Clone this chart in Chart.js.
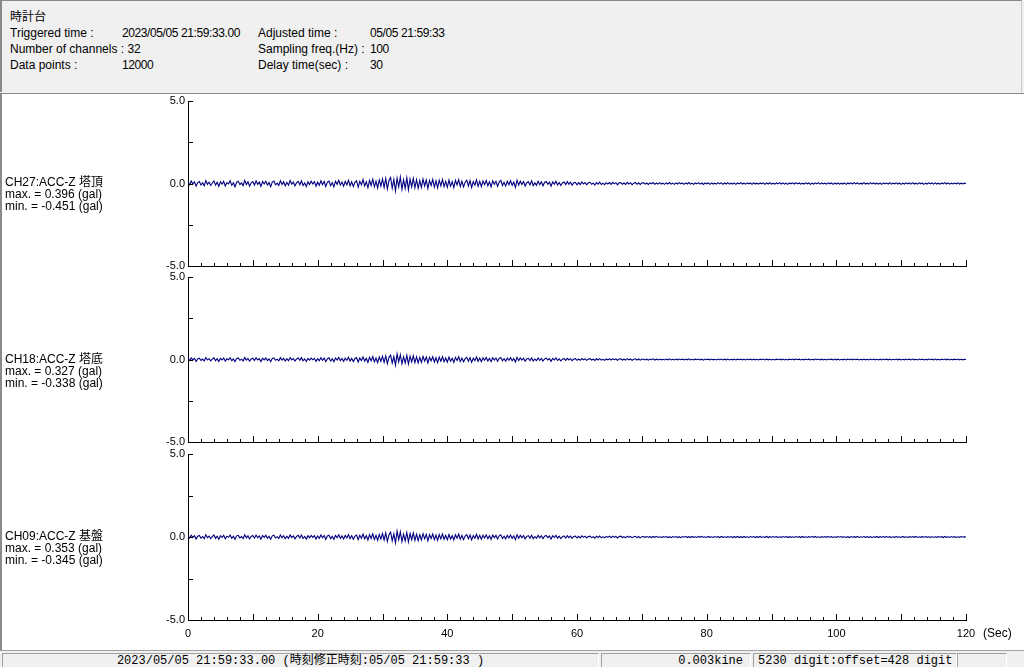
<!DOCTYPE html>
<html>
<head>
<meta charset="utf-8">
<script src="https://cdn.jsdelivr.net/npm/chart.js@4.4.0/dist/chart.umd.min.js"></script>
<style>
  body { margin: 0; width: 1024px; height: 667px; overflow: hidden; position: relative; background: #f0f0f0;
         font-family: "Liberation Sans", Arial, "Noto Sans CJK JP", sans-serif; font-size: 12px; color: #000; }
  #head { position: absolute; left: 0; top: 0; width: 1019px; height: 91px; background: #f0f0f0;
          border-top: 1px solid #8a8a8a; border-left: 2px solid #8a8a8a; border-right: 1px solid #c8c8c8; }
  #head div { position: absolute; white-space: nowrap; line-height: 14px; }
  #head .num { letter-spacing: -0.4px; }
  #plot { position: absolute; left: 0; top: 93px; width: 1022px; height: 556px; background: #fff;
          border-top: 1px solid #8a8a8a; border-left: 2px solid #8a8a8a; }
  canvas { position: absolute; left: 0; }
  .chlabel { position: absolute; left: 5px; line-height: 12px; white-space: nowrap; font-size: 12px; }
  #status { position: absolute; left: 0; top: 650px; width: 1024px; height: 17px; background: #f0f0f0;
            border-top: 1px solid #a0a0a0; font-family: "Liberation Mono", "DejaVu Sans Mono", "Noto Sans CJK JP", monospace; font-size: 12px; }
  #status div { position: absolute; top: 2px; height: 14px; line-height: 14px; white-space: nowrap;
                border-top: 1px solid #a0a0a0; border-left: 1px solid #a0a0a0; border-right: 1px solid #fff; }
</style>
</head>
<body>
<div id="head">
  <div style="left:8px;top:9px">時計台</div>
  <div style="left:8px;top:25px">Triggered time :</div>
  <div class="num" style="left:120px;top:25px">2023/05/05 21:59:33.00</div>
  <div style="left:256px;top:25px">Adjusted time :</div>
  <div class="num" style="left:368px;top:25px">05/05 21:59:33</div>
  <div style="left:8px;top:41px">Number of channels : 32</div>
  <div style="left:256px;top:41px">Sampling freq.(Hz) :</div>
  <div class="num" style="left:368px;top:41px">100</div>
  <div style="left:8px;top:57px">Data points :</div>
  <div class="num" style="left:120px;top:57px">12000</div>
  <div style="left:256px;top:57px">Delay time(sec) :</div>
  <div class="num" style="left:368px;top:57px">30</div>
</div>
<div id="plot"></div>
<canvas id="c0" width="1024" height="178" style="top:94px"></canvas>
<canvas id="c1" width="1024" height="178" style="top:270px"></canvas>
<canvas id="c2" width="1024" height="202" style="top:447px"></canvas>
<div class="chlabel" style="top:176px">CH27:ACC-Z 塔頂<br>max. = 0.396 (gal)<br>min. = -0.451 (gal)</div>
<div class="chlabel" style="top:353px">CH18:ACC-Z 塔底<br>max. = 0.327 (gal)<br>min. = -0.338 (gal)</div>
<div class="chlabel" style="top:530px">CH09:ACC-Z 基盤<br>max. = 0.353 (gal)<br>min. = -0.345 (gal)</div>
<div style="position:absolute;left:983px;top:626px;font-size:12px;line-height:14px">(Sec)</div>
<div id="status">
  <div style="left:2px;width:595px;text-align:center">2023/05/05 21:59:33.00  (時刻修正時刻:05/05 21:59:33  )</div>
  <div style="left:601px;width:141px;padding-right:7px;text-align:right">0.003kine</div>
  <div style="left:753px;width:198px;padding-left:4px">5230 digit:offset=428 digit</div>
  <div style="left:957px;width:48px"></div>
</div>
<script>
// waveforms, one value every 0.25 s (gal), 0..120 s
const sampleStep = 0.25;

const ch27 = [0.05,
  -0.08,0.15,-0.03,0.10,-0.16,0.06,0.12,-0.09,0.04,-0.14,0.18,-0.05,0.08,-0.12,0.03,0.16,-0.10,0.07,-0.18,0.11,
  -0.04,0.13,-0.15,0.06,-0.02,0.17,-0.11,0.05,-0.20,0.09,0.14,-0.07,0.03,-0.13,0.19,-0.06,0.10,-0.16,0.04,0.12,
  -0.09,0.16,-0.05,0.08,-0.17,0.12,-0.03,0.14,-0.10,0.06,-0.19,0.09,0.15,-0.08,0.02,-0.12,0.17,-0.06,0.11,-0.14,
  0.07,-0.10,0.18,-0.04,0.09,-0.15,0.05,0.13,-0.08,0.16,-0.12,0.04,-0.18,0.10,-0.06,0.14,-0.03,0.11,-0.16,0.08,
  -0.11,0.17,-0.07,0.12,-0.19,0.08,0.15,-0.13,0.06,-0.21,0.14,-0.05,0.19,-0.10,0.09,-0.16,0.12,-0.08,0.20,-0.14,
  0.10,-0.18,0.07,0.16,-0.22,0.13,-0.09,0.24,-0.15,0.11,-0.25,0.19,-0.12,0.26,-0.20,0.14,-0.27,0.22,-0.16,0.28,
  -0.24,0.30,-0.33,0.18,0.36,-0.28,0.25,-0.45,0.32,-0.20,0.40,-0.35,0.22,-0.30,0.34,-0.38,0.27,-0.21,0.31,-0.26,
  0.23,-0.29,0.18,-0.24,0.27,-0.15,0.21,-0.30,0.19,-0.12,0.25,-0.22,0.16,-0.27,0.20,-0.14,0.24,-0.19,0.13,-0.23,
  0.21,-0.16,0.11,-0.25,0.19,-0.09,0.23,-0.18,0.14,-0.21,0.08,0.20,-0.15,0.17,-0.24,0.12,-0.10,0.22,-0.17,0.13,
  -0.19,0.15,-0.07,0.18,-0.14,0.10,-0.20,0.16,-0.05,0.13,-0.17,0.09,0.19,-0.12,0.07,-0.15,0.14,-0.08,0.17,-0.11,
  0.09,-0.23,0.20,-0.10,0.14,-0.06,0.12,-0.15,0.05,0.11,-0.09,0.16,-0.13,0.04,-0.11,0.13,-0.07,0.10,-0.14,0.06,
  0.12,-0.05,0.08,-0.16,0.10,-0.04,0.14,-0.09,0.06,-0.12,0.03,0.09,-0.07,0.11,-0.05,0.08,-0.10,0.04,0.07,-0.08,
  0.05,-0.07,0.09,-0.03,0.06,-0.08,0.04,0.07,-0.05,0.03,-0.09,0.06,-0.04,0.08,-0.06,0.02,-0.07,0.05,-0.03,0.06,
  -0.05,0.07,-0.02,0.05,-0.08,0.04,0.06,-0.04,0.03,-0.06,0.07,-0.03,0.05,-0.07,0.02,0.06,-0.05,0.04,-0.06,0.03,
  0.05,-0.04,0.03,-0.06,0.04,-0.02,0.06,-0.05,0.03,-0.04,0.05,-0.03,0.02,-0.05,0.04,-0.03,0.06,-0.04,0.02,-0.05,
  0.04,-0.03,0.05,-0.02,0.03,-0.05,0.04,-0.03,0.06,-0.04,0.02,-0.05,0.03,-0.02,0.05,-0.04,0.03,-0.06,0.04,-0.02,
  0.03,-0.05,0.04,-0.03,0.02,-0.04,0.05,-0.02,0.04,-0.05,0.03,-0.03,0.05,-0.04,0.02,-0.03,0.04,-0.05,0.03,-0.02,
  0.05,-0.03,0.02,-0.04,0.04,-0.02,0.03,-0.05,0.05,-0.03,0.02,-0.04,0.03,-0.02,0.04,-0.05,0.03,-0.03,0.05,-0.04,
  0.02,-0.04,0.03,-0.02,0.05,-0.03,0.04,-0.04,0.02,-0.05,0.03,-0.02,0.04,-0.03,0.05,-0.02,0.03,-0.04,0.02,-0.03,
  0.04,-0.02,0.03,-0.05,0.02,-0.03,0.04,-0.02,0.05,-0.04,0.03,-0.03,0.02,-0.04,0.04,-0.02,0.03,-0.05,0.04,-0.03,
  0.03,-0.04,0.02,-0.03,0.04,-0.05,0.03,-0.02,0.04,-0.03,0.05,-0.02,0.03,-0.04,0.02,-0.03,0.05,-0.03,0.02,-0.04,
  0.05,-0.02,0.04,-0.03,0.02,-0.04,0.03,-0.05,0.04,-0.02,0.03,-0.03,0.05,-0.04,0.02,-0.02,0.04,-0.03,0.03,-0.05,
  0.02,-0.03,0.04,-0.02,0.03,-0.04,0.05,-0.03,0.02,-0.04,0.04,-0.02,0.03,-0.05,0.02,-0.03,0.04,-0.02,0.03,-0.04,
  0.04,-0.03,0.02,-0.04,0.03,-0.02,0.05,-0.03,0.04,-0.04,0.02,-0.03,0.03,-0.02,0.04,-0.03,0.02,-0.03,0.02,-0.01];

const ch18 = [0.03,
  -0.05,0.10,-0.02,0.07,-0.11,0.04,0.08,-0.06,0.03,-0.09,0.12,-0.03,0.05,-0.08,0.02,0.11,-0.07,0.05,-0.12,0.07,
  -0.03,0.09,-0.10,0.04,-0.02,0.11,-0.07,0.03,-0.13,0.06,0.09,-0.05,0.02,-0.09,0.12,-0.04,0.07,-0.11,0.03,0.08,
  -0.06,0.11,-0.03,0.05,-0.12,0.08,-0.02,0.09,-0.07,0.04,-0.13,0.06,0.10,-0.05,0.02,-0.08,0.11,-0.04,0.07,-0.09,
  0.05,-0.07,0.12,-0.03,0.06,-0.10,0.03,0.09,-0.05,0.11,-0.08,0.03,-0.12,0.07,-0.04,0.09,-0.02,0.07,-0.11,0.05,
  -0.07,0.11,-0.05,0.08,-0.13,0.05,0.10,-0.09,0.04,-0.14,0.09,-0.03,0.13,-0.07,0.06,-0.11,0.08,-0.05,0.13,-0.09,
  0.07,-0.12,0.05,0.11,-0.15,0.09,-0.06,0.16,-0.10,0.07,-0.17,0.13,-0.08,0.18,-0.14,0.09,-0.19,0.15,-0.11,0.20,
  -0.17,0.22,-0.25,0.13,0.27,-0.21,0.18,-0.34,0.33,-0.15,0.29,-0.26,0.16,-0.22,0.25,-0.28,0.19,-0.15,0.22,-0.19,
  0.16,-0.21,0.13,-0.17,0.19,-0.10,0.15,-0.21,0.13,-0.08,0.17,-0.15,0.11,-0.19,0.14,-0.10,0.17,-0.13,0.09,-0.16,
  0.14,-0.11,0.07,-0.17,0.13,-0.06,0.16,-0.12,0.09,-0.14,0.05,0.13,-0.10,0.11,-0.16,0.08,-0.07,0.15,-0.11,0.09,
  -0.13,0.10,-0.05,0.12,-0.09,0.07,-0.13,0.11,-0.03,0.09,-0.11,0.06,0.12,-0.08,0.05,-0.10,0.09,-0.05,0.11,-0.07,
  0.06,-0.15,0.13,-0.07,0.09,-0.04,0.08,-0.10,0.03,0.07,-0.06,0.10,-0.09,0.03,-0.07,0.09,-0.05,0.07,-0.09,0.04,
  0.08,-0.03,0.05,-0.11,0.07,-0.03,0.09,-0.06,0.04,-0.08,0.02,0.06,-0.05,0.07,-0.03,0.05,-0.07,0.03,0.05,-0.05,
  0.03,-0.05,0.06,-0.02,0.04,-0.05,0.03,0.05,-0.03,0.02,-0.06,0.04,-0.03,0.05,-0.04,0.01,-0.05,0.03,-0.02,0.04,
  -0.03,0.05,-0.01,0.03,-0.05,0.03,0.04,-0.03,0.02,-0.04,0.05,-0.02,0.03,-0.05,0.01,0.04,-0.03,0.03,-0.04,0.02,
  0.03,-0.03,0.02,-0.04,0.03,-0.01,0.04,-0.03,0.02,-0.03,0.03,-0.02,0.01,-0.03,0.03,-0.02,0.04,-0.03,0.01,-0.03,
  0.03,-0.02,0.03,-0.01,0.02,-0.03,0.03,-0.02,0.04,-0.03,0.01,-0.03,0.02,-0.01,0.03,-0.03,0.02,-0.04,0.03,-0.01,
  0.02,-0.03,0.03,-0.02,0.01,-0.03,0.03,-0.01,0.03,-0.03,0.02,-0.02,0.03,-0.03,0.01,-0.02,0.03,-0.03,0.02,-0.01,
  0.03,-0.02,0.01,-0.03,0.03,-0.01,0.02,-0.03,0.03,-0.02,0.01,-0.03,0.02,-0.01,0.03,-0.03,0.02,-0.02,0.03,-0.03,
  0.01,-0.03,0.02,-0.01,0.03,-0.02,0.03,-0.03,0.01,-0.03,0.02,-0.01,0.03,-0.02,0.03,-0.01,0.02,-0.03,0.01,-0.02,
  0.03,-0.01,0.02,-0.03,0.01,-0.02,0.03,-0.01,0.03,-0.03,0.02,-0.02,0.01,-0.03,0.03,-0.01,0.02,-0.03,0.03,-0.02,
  0.02,-0.03,0.01,-0.02,0.03,-0.03,0.02,-0.01,0.03,-0.02,0.03,-0.01,0.02,-0.03,0.01,-0.02,0.03,-0.02,0.01,-0.03,
  0.03,-0.01,0.03,-0.02,0.01,-0.03,0.02,-0.03,0.03,-0.01,0.02,-0.02,0.03,-0.03,0.01,-0.01,0.03,-0.02,0.02,-0.03,
  0.01,-0.02,0.03,-0.01,0.02,-0.03,0.03,-0.02,0.01,-0.03,0.03,-0.01,0.02,-0.03,0.01,-0.02,0.03,-0.01,0.02,-0.03,
  0.03,-0.02,0.01,-0.03,0.02,-0.01,0.03,-0.02,0.03,-0.03,0.01,-0.02,0.02,-0.01,0.03,-0.02,0.01,-0.02,0.01,-0.01];

const ch09 = [0.04,
  -0.06,0.11,-0.02,0.08,-0.12,0.05,0.09,-0.07,0.03,-0.10,0.13,-0.04,0.06,-0.09,0.02,0.12,-0.08,0.05,-0.13,0.08,
  -0.03,0.10,-0.11,0.05,-0.02,0.12,-0.08,0.04,-0.14,0.07,0.10,-0.05,0.03,-0.10,0.13,-0.05,0.07,-0.12,0.03,0.09,
  -0.07,0.12,-0.04,0.06,-0.13,0.09,-0.02,0.10,-0.08,0.05,-0.14,0.07,0.11,-0.06,0.02,-0.09,0.12,-0.05,0.08,-0.10,
  0.05,-0.08,0.13,-0.03,0.07,-0.11,0.04,0.10,-0.06,0.12,-0.09,0.03,-0.13,0.08,-0.05,0.10,-0.02,0.08,-0.12,0.06,
  -0.08,0.12,-0.05,0.09,-0.14,0.06,0.11,-0.10,0.04,-0.15,0.10,-0.04,0.14,-0.08,0.07,-0.12,0.09,-0.06,0.14,-0.10,
  0.08,-0.13,0.05,0.12,-0.16,0.10,-0.07,0.17,-0.11,0.08,-0.18,0.14,-0.09,0.19,-0.15,0.10,-0.20,0.16,-0.12,0.21,
  -0.18,0.24,-0.27,0.14,0.29,-0.23,0.19,-0.35,0.35,-0.16,0.31,-0.28,0.17,-0.24,0.27,-0.30,0.21,-0.16,0.24,-0.20,
  0.17,-0.22,0.14,-0.18,0.20,-0.11,0.16,-0.23,0.14,-0.09,0.18,-0.16,0.12,-0.20,0.15,-0.11,0.18,-0.14,0.10,-0.17,
  0.15,-0.12,0.08,-0.18,0.14,-0.07,0.17,-0.13,0.10,-0.15,0.06,0.14,-0.11,0.12,-0.17,0.09,-0.08,0.16,-0.12,0.10,
  -0.14,0.11,-0.06,0.13,-0.10,0.08,-0.14,0.12,-0.04,0.10,-0.12,0.07,0.13,-0.09,0.05,-0.11,0.10,-0.06,0.12,-0.08,
  0.07,-0.16,0.14,-0.08,0.10,-0.05,0.09,-0.11,0.04,0.08,-0.07,0.11,-0.10,0.03,-0.08,0.10,-0.05,0.08,-0.10,0.05,
  0.09,-0.04,0.06,-0.12,0.08,-0.03,0.10,-0.07,0.05,-0.09,0.02,0.07,-0.06,0.08,-0.04,0.06,-0.08,0.03,0.05,-0.06,
  0.04,-0.05,0.07,-0.02,0.05,-0.06,0.03,0.05,-0.04,0.02,-0.07,0.05,-0.03,0.06,-0.05,0.02,-0.05,0.04,-0.02,0.05,
  -0.04,0.05,-0.02,0.04,-0.06,0.03,0.05,-0.03,0.02,-0.05,0.05,-0.02,0.04,-0.05,0.02,0.04,-0.04,0.03,-0.05,0.02,
  0.03,-0.02,0.03,-0.01,0.02,-0.03,0.03,-0.02,0.04,-0.03,0.01,-0.03,0.02,-0.01,0.03,-0.03,0.02,-0.04,0.03,-0.01,
  0.03,-0.03,0.02,-0.04,0.03,-0.01,0.04,-0.03,0.02,-0.03,0.03,-0.02,0.01,-0.03,0.03,-0.02,0.04,-0.03,0.01,-0.03,
  0.03,-0.02,0.01,-0.03,0.03,-0.01,0.02,-0.03,0.03,-0.02,0.01,-0.03,0.02,-0.01,0.03,-0.03,0.02,-0.02,0.03,-0.03,
  0.02,-0.03,0.03,-0.02,0.01,-0.03,0.03,-0.01,0.03,-0.03,0.02,-0.02,0.03,-0.03,0.01,-0.02,0.03,-0.03,0.02,-0.01,
  0.03,-0.01,0.02,-0.03,0.01,-0.02,0.03,-0.01,0.03,-0.03,0.02,-0.02,0.01,-0.03,0.03,-0.01,0.02,-0.03,0.03,-0.02,
  0.01,-0.03,0.02,-0.01,0.03,-0.02,0.03,-0.03,0.01,-0.03,0.02,-0.01,0.03,-0.02,0.03,-0.01,0.02,-0.03,0.01,-0.02,
  0.03,-0.01,0.03,-0.02,0.01,-0.03,0.02,-0.03,0.03,-0.01,0.02,-0.02,0.03,-0.03,0.01,-0.01,0.03,-0.02,0.02,-0.03,
  0.02,-0.03,0.01,-0.02,0.03,-0.03,0.02,-0.01,0.03,-0.02,0.03,-0.01,0.02,-0.03,0.01,-0.02,0.03,-0.02,0.01,-0.03,
  0.03,-0.02,0.01,-0.03,0.02,-0.01,0.03,-0.02,0.03,-0.03,0.01,-0.02,0.02,-0.01,0.03,-0.02,0.01,-0.02,0.01,-0.01,
  0.01,-0.02,0.03,-0.01,0.02,-0.03,0.03,-0.02,0.01,-0.03,0.03,-0.01,0.02,-0.03,0.01,-0.02,0.03,-0.01,0.02,-0.02];

const channels = [ch27, ch18, ch09];
const canvasIds = ['c0', 'c1', 'c2'];

const timeMin = 0, timeMax = 120;
const timeLabelStep = 20;
const minorTickStep = 2, majorTickStep = 10;
const yMin = -5, yMax = 5;
const yTickMarks = [-5, -2.5, 0, 2.5, 5];

const traceColor = '#000080';

// short ticks pointing into the plot, like the original viewer
const innerTicks = {
  id: 'innerTicks',
  afterDraw(chart) {
    const { ctx, chartArea, scales: { x, y } } = chart;
    ctx.save();
    ctx.strokeStyle = '#000';
    ctx.lineWidth = 1;
    ctx.beginPath();
    for (let s = timeMin; s <= timeMax; s += minorTickStep) {
      const px = Math.round(x.getPixelForValue(s)) + 0.5;
      const len = s % majorTickStep === 0 ? 6 : 3;
      ctx.moveTo(px, chartArea.bottom);
      ctx.lineTo(px, chartArea.bottom - len);
    }
    yTickMarks.forEach(v => {
      const py = Math.round(y.getPixelForValue(v)) + 0.5;
      ctx.moveTo(chartArea.left, py);
      ctx.lineTo(chartArea.left + 5, py);
    });
    ctx.stroke();
    ctx.restore();
  }
};

channels.forEach((values, idx) => {
  const last = idx === channels.length - 1;
  const ctx = document.getElementById(canvasIds[idx]).getContext('2d');
  new Chart(ctx, {
    type: 'line',
    data: {
      datasets: [{
        data: values.map((v, i) => ({ x: i * sampleStep, y: v })),
        borderColor: traceColor,
        borderWidth: 1.1,
        pointRadius: 0,
        tension: 0
      }]
    },
    options: {
      responsive: false,
      animation: false,
      events: [],
      layout: { padding: { left: 0, right: 58, top: 7, bottom: last ? 0 : 5 } },
      plugins: { legend: { display: false }, tooltip: { enabled: false } },
      scales: {
        x: {
          type: 'linear',
          min: timeMin,
          max: timeMax,
          afterFit(scale) { scale.height = last ? 29 : 1; },
          grid: { display: true, drawOnChartArea: false, drawTicks: false },
          border: { display: true, color: '#000', width: 1 },
          ticks: {
            display: last,
            stepSize: timeLabelStep,
            padding: 7,
            maxRotation: 0,
            color: '#000',
            font: { family: 'Liberation Sans', size: 11 }
          }
        },
        y: {
          min: yMin,
          max: yMax,
          afterFit(scale) {
            scale.width = 188;
            scale.paddingTop = 0;
            scale.paddingBottom = 0;
          },
          grid: { display: true, drawOnChartArea: false, drawTicks: false },
          border: { display: true, color: '#000', width: 1 },
          ticks: {
            stepSize: 5,
            padding: 3,
            color: '#000',
            font: { family: 'Liberation Sans', size: 11 },
            callback: v => v.toFixed(1)
          }
        }
      }
    },
    plugins: [innerTicks]
  });
});
</script>
</body>
</html>
